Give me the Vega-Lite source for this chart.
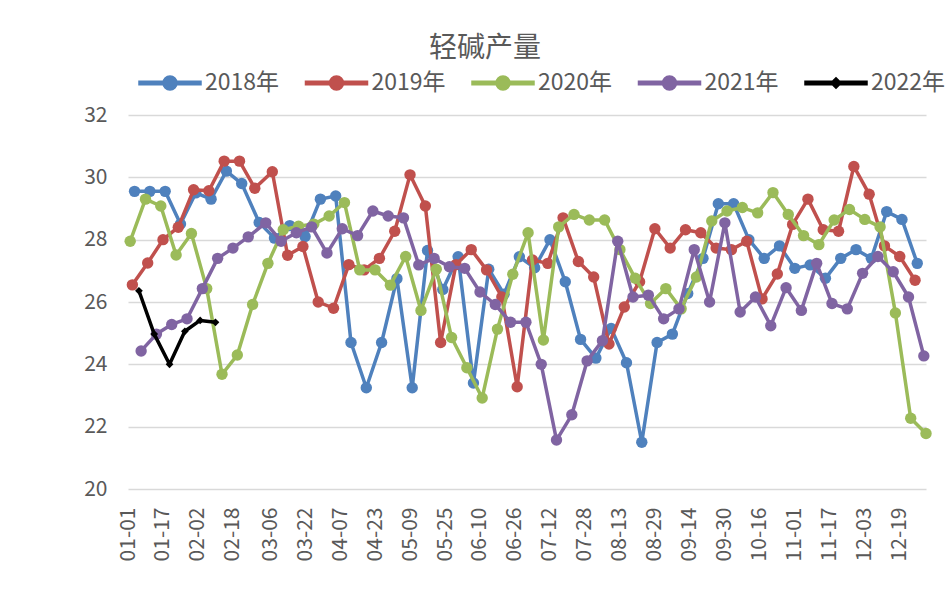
{
"$schema": "https://vega.github.io/schema/vega-lite/v6.json",
"width": 798, "height": 374,
"autosize": {"type": "none"},
"padding": {"left": 128, "top": 115, "right": 26, "bottom": 121},
"background": "white",
"title": {"text": "轻碱产量", "fontSize": 28, "font": "Noto Sans CJK SC", "fontWeight": "normal", "color": "#595959", "anchor": "middle", "frame": "group", "dx": -42, "offset": -12},
"config": {"view": {"stroke": null}},
"data": {"values": [
{"s":"2018年","d":"2018/01/04","v":29.55},{"s":"2018年","d":"2018/01/11","v":29.55},{"s":"2018年","d":"2018/01/18","v":29.55},{"s":"2018年","d":"2018/01/25","v":28.5},{"s":"2018年","d":"2018/02/01","v":29.5},{"s":"2018年","d":"2018/02/08","v":29.3},{"s":"2018年","d":"2018/02/15","v":30.2},{"s":"2018年","d":"2018/02/22","v":29.8},{"s":"2018年","d":"2018/03/01","v":28.55},{"s":"2018年","d":"2018/03/08","v":28.05},{"s":"2018年","d":"2018/03/15","v":28.45},{"s":"2018年","d":"2018/03/22","v":28.1},{"s":"2018年","d":"2018/03/29","v":29.3},{"s":"2018年","d":"2018/04/05","v":29.4},{"s":"2018年","d":"2018/04/12","v":24.7},{"s":"2018年","d":"2018/04/19","v":23.25},{"s":"2018年","d":"2018/04/26","v":24.7},{"s":"2018年","d":"2018/05/03","v":26.75},{"s":"2018年","d":"2018/05/10","v":23.25},{"s":"2018年","d":"2018/05/17","v":27.65},{"s":"2018年","d":"2018/05/24","v":26.4},{"s":"2018年","d":"2018/05/31","v":27.45},{"s":"2018年","d":"2018/06/07","v":23.4},{"s":"2018年","d":"2018/06/14","v":27.05},{"s":"2018年","d":"2018/06/21","v":26.25},{"s":"2018年","d":"2018/06/28","v":27.45},{"s":"2018年","d":"2018/07/05","v":27.1},{"s":"2018年","d":"2018/07/12","v":28.0},{"s":"2018年","d":"2018/07/19","v":26.65},{"s":"2018年","d":"2018/07/26","v":24.8},{"s":"2018年","d":"2018/08/02","v":24.2},{"s":"2018年","d":"2018/08/09","v":25.15},{"s":"2018年","d":"2018/08/16","v":24.05},{"s":"2018年","d":"2018/08/23","v":21.5},{"s":"2018年","d":"2018/08/30","v":24.7},{"s":"2018年","d":"2018/09/06","v":24.97},{"s":"2018年","d":"2018/09/13","v":26.27},{"s":"2018年","d":"2018/09/20","v":27.4},{"s":"2018年","d":"2018/09/27","v":29.15},{"s":"2018年","d":"2018/10/04","v":29.15},{"s":"2018年","d":"2018/10/11","v":28.0},{"s":"2018年","d":"2018/10/18","v":27.4},{"s":"2018年","d":"2018/10/25","v":27.8},{"s":"2018年","d":"2018/11/01","v":27.08},{"s":"2018年","d":"2018/11/08","v":27.19},{"s":"2018年","d":"2018/11/15","v":26.76},{"s":"2018年","d":"2018/11/22","v":27.4},{"s":"2018年","d":"2018/11/29","v":27.68},{"s":"2018年","d":"2018/12/06","v":27.4},{"s":"2018年","d":"2018/12/13","v":28.9},{"s":"2018年","d":"2018/12/20","v":28.65},{"s":"2018年","d":"2018/12/27","v":27.24},
{"s":"2019年","d":"2019/01/03","v":26.55},{"s":"2019年","d":"2019/01/10","v":27.25},{"s":"2019年","d":"2019/01/17","v":28.0},{"s":"2019年","d":"2019/01/24","v":28.4},{"s":"2019年","d":"2019/01/31","v":29.6},{"s":"2019年","d":"2019/02/07","v":29.57},{"s":"2019年","d":"2019/02/14","v":30.52},{"s":"2019年","d":"2019/02/21","v":30.52},{"s":"2019年","d":"2019/02/28","v":29.65},{"s":"2019年","d":"2019/03/07","v":30.18},{"s":"2019年","d":"2019/03/14","v":27.5},{"s":"2019年","d":"2019/03/21","v":27.78},{"s":"2019年","d":"2019/03/28","v":26.0},{"s":"2019年","d":"2019/04/04","v":25.8},{"s":"2019年","d":"2019/04/11","v":27.2},{"s":"2019年","d":"2019/04/18","v":27.03},{"s":"2019年","d":"2019/04/25","v":27.4},{"s":"2019年","d":"2019/05/02","v":28.27},{"s":"2019年","d":"2019/05/09","v":30.08},{"s":"2019年","d":"2019/05/16","v":29.08},{"s":"2019年","d":"2019/05/23","v":24.7},{"s":"2019年","d":"2019/05/30","v":27.2},{"s":"2019年","d":"2019/06/06","v":27.68},{"s":"2019年","d":"2019/06/13","v":27.03},{"s":"2019年","d":"2019/06/20","v":26.16},{"s":"2019年","d":"2019/06/27","v":23.28},{"s":"2019年","d":"2019/07/04","v":27.35},{"s":"2019年","d":"2019/07/11","v":27.24},{"s":"2019年","d":"2019/07/18","v":28.7},{"s":"2019年","d":"2019/07/25","v":27.3},{"s":"2019年","d":"2019/08/01","v":26.8},{"s":"2019年","d":"2019/08/08","v":24.65},{"s":"2019年","d":"2019/08/15","v":25.84},{"s":"2019年","d":"2019/08/22","v":26.65},{"s":"2019年","d":"2019/08/29","v":28.35},{"s":"2019年","d":"2019/09/05","v":27.73},{"s":"2019年","d":"2019/09/12","v":28.32},{"s":"2019年","d":"2019/09/19","v":28.22},{"s":"2019年","d":"2019/09/26","v":27.73},{"s":"2019年","d":"2019/10/03","v":27.68},{"s":"2019年","d":"2019/10/10","v":27.95},{"s":"2019年","d":"2019/10/17","v":26.1},{"s":"2019年","d":"2019/10/24","v":26.9},{"s":"2019年","d":"2019/10/31","v":28.49},{"s":"2019年","d":"2019/11/07","v":29.3},{"s":"2019年","d":"2019/11/14","v":28.32},{"s":"2019年","d":"2019/11/21","v":28.27},{"s":"2019年","d":"2019/11/28","v":30.35},{"s":"2019年","d":"2019/12/05","v":29.46},{"s":"2019年","d":"2019/12/12","v":27.8},{"s":"2019年","d":"2019/12/19","v":27.46},{"s":"2019年","d":"2019/12/26","v":26.7},
{"s":"2020年","d":"2020/01/02","v":27.95},{"s":"2020年","d":"2020/01/09","v":29.3},{"s":"2020年","d":"2020/01/16","v":29.08},{"s":"2020年","d":"2020/01/23","v":27.51},{"s":"2020年","d":"2020/01/30","v":28.2},{"s":"2020年","d":"2020/02/06","v":26.43},{"s":"2020年","d":"2020/02/13","v":23.68},{"s":"2020年","d":"2020/02/20","v":24.3},{"s":"2020年","d":"2020/02/27","v":25.92},{"s":"2020年","d":"2020/03/05","v":27.24},{"s":"2020年","d":"2020/03/12","v":28.32},{"s":"2020年","d":"2020/03/19","v":28.43},{"s":"2020年","d":"2020/03/26","v":28.5},{"s":"2020年","d":"2020/04/02","v":28.76},{"s":"2020年","d":"2020/04/09","v":29.19},{"s":"2020年","d":"2020/04/16","v":27.03},{"s":"2020年","d":"2020/04/23","v":27.03},{"s":"2020年","d":"2020/04/30","v":26.54},{"s":"2020年","d":"2020/05/07","v":27.46},{"s":"2020年","d":"2020/05/14","v":25.73},{"s":"2020年","d":"2020/05/21","v":27.05},{"s":"2020年","d":"2020/05/28","v":24.86},{"s":"2020年","d":"2020/06/04","v":23.89},{"s":"2020年","d":"2020/06/11","v":22.92},{"s":"2020年","d":"2020/06/18","v":25.13},{"s":"2020年","d":"2020/06/25","v":26.89},{"s":"2020年","d":"2020/07/02","v":28.22},{"s":"2020年","d":"2020/07/09","v":24.78},{"s":"2020年","d":"2020/07/16","v":28.41},{"s":"2020年","d":"2020/07/23","v":28.81},{"s":"2020年","d":"2020/07/30","v":28.63},{"s":"2020年","d":"2020/08/06","v":28.63},{"s":"2020年","d":"2020/08/13","v":27.68},{"s":"2020年","d":"2020/08/20","v":26.76},{"s":"2020年","d":"2020/08/27","v":25.95},{"s":"2020年","d":"2020/09/03","v":26.43},{"s":"2020年","d":"2020/09/10","v":25.78},{"s":"2020年","d":"2020/09/17","v":26.8},{"s":"2020年","d":"2020/09/24","v":28.6},{"s":"2020年","d":"2020/10/01","v":28.92},{"s":"2020年","d":"2020/10/08","v":29.03},{"s":"2020年","d":"2020/10/15","v":28.86},{"s":"2020年","d":"2020/10/22","v":29.51},{"s":"2020年","d":"2020/10/29","v":28.81},{"s":"2020年","d":"2020/11/05","v":28.13},{"s":"2020年","d":"2020/11/12","v":27.84},{"s":"2020年","d":"2020/11/19","v":28.63},{"s":"2020年","d":"2020/11/26","v":28.97},{"s":"2020年","d":"2020/12/03","v":28.65},{"s":"2020年","d":"2020/12/10","v":28.41},{"s":"2020年","d":"2020/12/17","v":25.65},{"s":"2020年","d":"2020/12/24","v":22.27},{"s":"2020年","d":"2020/12/31","v":21.78},
{"s":"2021年","d":"2021/01/07","v":24.43},{"s":"2021年","d":"2021/01/14","v":24.97},{"s":"2021年","d":"2021/01/21","v":25.28},{"s":"2021年","d":"2021/01/28","v":25.46},{"s":"2021年","d":"2021/02/04","v":26.43},{"s":"2021年","d":"2021/02/11","v":27.4},{"s":"2021年","d":"2021/02/18","v":27.73},{"s":"2021年","d":"2021/02/25","v":28.09},{"s":"2021年","d":"2021/03/04","v":28.54},{"s":"2021年","d":"2021/03/11","v":27.95},{"s":"2021年","d":"2021/03/18","v":28.22},{"s":"2021年","d":"2021/03/25","v":28.41},{"s":"2021年","d":"2021/04/01","v":27.57},{"s":"2021年","d":"2021/04/08","v":28.35},{"s":"2021年","d":"2021/04/15","v":28.13},{"s":"2021年","d":"2021/04/22","v":28.92},{"s":"2021年","d":"2021/04/29","v":28.76},{"s":"2021年","d":"2021/05/06","v":28.7},{"s":"2021年","d":"2021/05/13","v":27.19},{"s":"2021年","d":"2021/05/20","v":27.4},{"s":"2021年","d":"2021/05/27","v":27.13},{"s":"2021年","d":"2021/06/03","v":27.08},{"s":"2021年","d":"2021/06/10","v":26.32},{"s":"2021年","d":"2021/06/17","v":25.92},{"s":"2021年","d":"2021/06/24","v":25.35},{"s":"2021年","d":"2021/07/01","v":25.35},{"s":"2021年","d":"2021/07/08","v":24.0},{"s":"2021年","d":"2021/07/15","v":21.57},{"s":"2021年","d":"2021/07/22","v":22.38},{"s":"2021年","d":"2021/07/29","v":24.11},{"s":"2021年","d":"2021/08/05","v":24.76},{"s":"2021年","d":"2021/08/12","v":27.95},{"s":"2021年","d":"2021/08/19","v":26.16},{"s":"2021年","d":"2021/08/26","v":26.22},{"s":"2021年","d":"2021/09/02","v":25.46},{"s":"2021年","d":"2021/09/09","v":25.78},{"s":"2021年","d":"2021/09/16","v":27.68},{"s":"2021年","d":"2021/09/23","v":26.0},{"s":"2021年","d":"2021/09/30","v":28.54},{"s":"2021年","d":"2021/10/07","v":25.68},{"s":"2021年","d":"2021/10/14","v":26.16},{"s":"2021年","d":"2021/10/21","v":25.24},{"s":"2021年","d":"2021/10/28","v":26.46},{"s":"2021年","d":"2021/11/04","v":25.73},{"s":"2021年","d":"2021/11/11","v":27.24},{"s":"2021年","d":"2021/11/18","v":25.95},{"s":"2021年","d":"2021/11/25","v":25.78},{"s":"2021年","d":"2021/12/02","v":26.92},{"s":"2021年","d":"2021/12/09","v":27.46},{"s":"2021年","d":"2021/12/16","v":26.97},{"s":"2021年","d":"2021/12/23","v":26.16},{"s":"2021年","d":"2021/12/30","v":24.27},
{"s":"2022年","d":"2022/01/06","v":26.36},{"s":"2022年","d":"2022/01/13","v":24.97},{"s":"2022年","d":"2022/01/20","v":24.0},{"s":"2022年","d":"2022/01/27","v":25.06},{"s":"2022年","d":"2022/02/03","v":25.41},{"s":"2022年","d":"2022/02/10","v":25.35}
]},
"encoding": {
  "x": {"field": "d", "type": "temporal", "timeUnit": "monthdate",
    "scale": {"domain": [{"month": 1, "date": 1}, {"month": 12, "date": 31}]},
    "axis": {"title": null, "format": "%m-%d", "labelAngle": 270, "labelFontSize": 21, "labelFont": "Noto Sans CJK SC", "labelColor": "#595959", "labelPadding": 18, "ticks": false, "domain": false, "grid": false, "labelOverlap": false, "labelFlush": false, "labelBound": false,
      "values": [{"month":1,"date":1},{"month":1,"date":17},{"month":2,"date":2},{"month":2,"date":18},{"month":3,"date":6},{"month":3,"date":22},{"month":4,"date":7},{"month":4,"date":23},{"month":5,"date":9},{"month":5,"date":25},{"month":6,"date":10},{"month":6,"date":26},{"month":7,"date":12},{"month":7,"date":28},{"month":8,"date":13},{"month":8,"date":29},{"month":9,"date":14},{"month":9,"date":30},{"month":10,"date":16},{"month":11,"date":1},{"month":11,"date":17},{"month":12,"date":3},{"month":12,"date":19}]}},
  "y": {"field": "v", "type": "quantitative", "scale": {"domain": [20, 32], "nice": false, "zero": false},
    "axis": {"title": null, "values": [20, 22, 24, 26, 28, 30, 32], "labelFontSize": 21, "labelFont": "Noto Sans CJK SC", "labelColor": "#595959", "labelPadding": 21, "ticks": false, "domain": false, "gridColor": "#D9D9D9", "gridWidth": 1.5}},
  "color": {"field": "s", "type": "nominal",
    "scale": {"domain": ["2018年", "2019年", "2020年", "2021年", "2022年"], "range": ["#4F81BD", "#C0504D", "#9BBB59", "#8064A2", "#000000"]},
    "legend": {"title": null, "orient": "none", "legendX": 10, "legendY": -64, "direction": "horizontal", "columns": 5, "columnPadding": 22.5, "labelOffset": 3, "labelFontSize": 23, "labelFont": "Noto Sans CJK SC", "labelColor": "#595959", "symbolSize": 3844,
      "encode": {"symbols": {"update": {"fill": {"scale": "color", "field": "value"}, "stroke": {"value": "transparent"}, "opacity": {"value": 1}, "size": {"value": 3844}}}}}}
},
"layer": [
  {"transform": [{"filter": "datum.s === '2018年'"}], "layer": [
    {"mark": {"type": "line", "strokeWidth": 3.5, "strokeJoin": "round"}},
    {"mark": {"type": "point", "shape": "circle", "filled": true, "size": 130, "opacity": 1}}]},
  {"transform": [{"filter": "datum.s === '2019年'"}], "layer": [
    {"mark": {"type": "line", "strokeWidth": 3.5, "strokeJoin": "round"}},
    {"mark": {"type": "point", "shape": "circle", "filled": true, "size": 130, "opacity": 1}}]},
  {"transform": [{"filter": "datum.s === '2020年'"}], "layer": [
    {"mark": {"type": "line", "strokeWidth": 3.5, "strokeJoin": "round"}},
    {"mark": {"type": "point", "shape": "circle", "filled": true, "size": 130, "opacity": 1}}]},
  {"transform": [{"filter": "datum.s === '2021年'"}], "layer": [
    {"mark": {"type": "line", "strokeWidth": 3.5, "strokeJoin": "round"}},
    {"mark": {"type": "point", "shape": "circle", "filled": true, "size": 130, "opacity": 1}}]},
  {"transform": [{"filter": "datum.s === '2022年'"}], "layer": [
    {"mark": {"type": "line", "strokeWidth": 3.5, "strokeJoin": "round"}},
    {"mark": {"type": "point", "shape": "diamond", "filled": true, "size": 60, "opacity": 1}}]},
  {"mark": {"type": "point", "filled": true, "opacity": 0},
   "encoding": {"shape": {"field": "s", "type": "nominal",
     "scale": {"domain": ["2018年", "2019年", "2020年", "2021年", "2022年"],
       "range": ["M-1,-0.056H1V0.056H-1Z M0.225,0A0.225,0.225,0,1,1,-0.225,0A0.225,0.225,0,1,1,0.225,0Z", "M-1,-0.056H1V0.056H-1Z M0.225,0A0.225,0.225,0,1,1,-0.225,0A0.225,0.225,0,1,1,0.225,0Z", "M-1,-0.056H1V0.056H-1Z M0.225,0A0.225,0.225,0,1,1,-0.225,0A0.225,0.225,0,1,1,0.225,0Z", "M-1,-0.056H1V0.056H-1Z M0.225,0A0.225,0.225,0,1,1,-0.225,0A0.225,0.225,0,1,1,0.225,0Z", "M-1,-0.056H1V0.056H-1Z M0,-0.17L0.17,0L0,0.17L-0.17,0Z"]},
     "legend": {"title": null, "orient": "none", "legendX": 10, "legendY": -64, "direction": "horizontal", "columns": 5, "columnPadding": 22.5, "labelOffset": 3, "labelFontSize": 23, "labelFont": "Noto Sans CJK SC", "labelColor": "#595959", "symbolSize": 3844,
       "encode": {"symbols": {"update": {"fill": {"scale": "color", "field": "value"}, "stroke": {"value": "transparent"}, "opacity": {"value": 1}, "size": {"value": 3844}}}}}}}}
]
}
